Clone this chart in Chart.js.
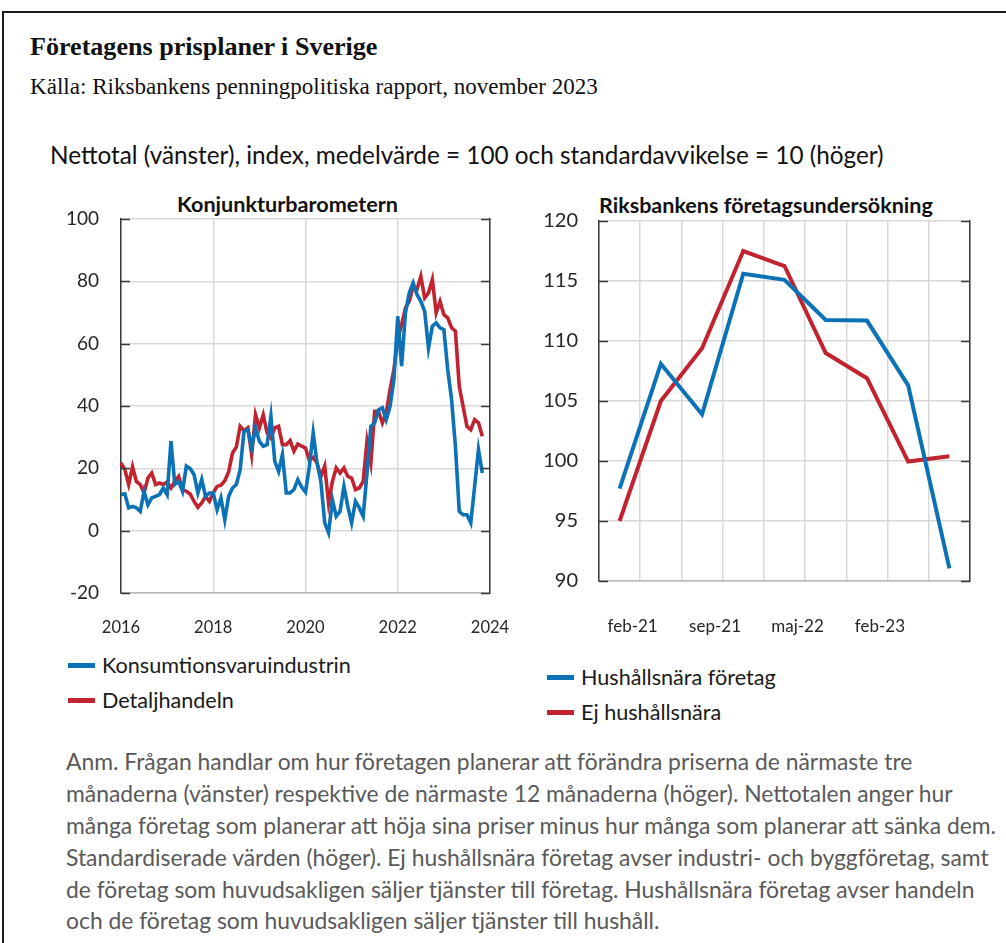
<!DOCTYPE html>
<html>
<head>
<meta charset="utf-8">
<script src="https://cdn.jsdelivr.net/npm/chart.js@4.4.0/dist/chart.umd.min.js"></script>
<style>
html,body{margin:0;padding:0;background:#fff;width:1006px;height:943px;overflow:hidden;}
.t{position:absolute;white-space:nowrap;}
#frame{position:absolute;left:2px;top:11px;width:1100px;height:1000px;border-top:2px solid #1a1a1a;border-left:2px solid #1a1a1a;}
.serif{font-family:"Liberation Serif","DejaVu Serif",serif;color:#111;}
.sans{font-family:Lato,"Open Sans",sans-serif;}
.sw{position:absolute;height:5px;}
#leftWrap{position:absolute;left:30px;top:200px;width:490px;height:450px;}
#rightWrap{position:absolute;left:520px;top:200px;width:486px;height:450px;}
</style>
</head>
<body>
<div id="frame"></div>
<div class="t serif" id="title" style="left:30px;top:32px;line-height:30px;font-weight:bold;">Företagens prisplaner i Sverige</div>
<div class="t serif" id="source" style="left:30px;top:71px;line-height:30px;">Källa: Riksbankens penningpolitiska rapport, november 2023</div>
<div class="t sans" id="subtitle" style="left:50px;top:140px;line-height:30px;color:#111;">Nettotal (vänster), index, medelvärde = 100 och standardavvikelse = 10 (höger)</div>
<div class="t sans" id="ltitle" style="top:192px;line-height:24px;font-weight:bold;color:#111;">Konjunkturbarometern</div>
<div class="t sans" id="rtitle" style="left:599px;top:193px;line-height:24px;font-weight:bold;color:#111;">Riksbankens företagsundersökning</div>

<div id="leftWrap"><canvas id="leftChart"></canvas></div>
<div id="rightWrap"><canvas id="rightChart"></canvas></div>

<div id="legendLeft"></div>
<div id="legendRight"></div>
<div id="note"></div>

<script>
// ---------- DATA ----------
// Left chart: monthly net balances, Jan 2016 ... Nov 2023
const konsumtionsvaruindustrin = [
  11.6, 11.8, 7.3, 7.8, 7.3, 6.2, 12.6, 8.3, 10.5, 11.0, 11.6, 13.7,
  11.6, 28.7, 14.8, 15.8, 12.6, 20.7, 19.9, 18.0, 12.1, 16.4, 11.0, 12.1,
  12.1, 6.7, 10.5, 3.5, 11.0, 13.7, 14.8, 19.6, 31.9, 32.4, 26.5, 33.0,
  28.7, 27.1, 27.6, 36.7, 22.3, 19.0, 24.4, 12.1, 12.1, 13.2, 16.4, 14.0,
  12.4, 20.5, 31.4, 21.7, 15.8, 2.5, -0.7, 9.9, 4.6, 6.2, 14.2, 7.8,
  2.5, 9.4, 7.3, 4.6, 18.5, 33.5, 34.6, 38.8, 39.4, 35.6, 39.9, 48.5,
  68.8, 52.8, 69.9, 76.3, 79.5, 75.8, 73.6, 70.4, 58.6, 65.6, 66.7, 65.1,
  64.5, 51.7, 42.1, 27.1, 6.2, 5.1, 5.1, 2.5, 14.2, 26.0, 18.5
];
const detaljhandeln = [
  21.7, 19.6, 14.8, 20.5, 15.8, 14.8, 12.1, 16.9, 18.5, 14.8, 15.3, 14.8,
  15.6, 13.7, 15.8, 17.4, 13.2, 12.6, 11.8, 9.4, 7.5, 8.9, 11.0, 9.4,
  12.1, 14.2, 14.6, 16.0, 18.8, 24.9, 26.8, 33.5, 32.1, 33.0, 24.4, 37.2,
  33.0, 37.2, 31.4, 29.7, 33.0, 33.5, 27.6, 27.6, 28.9, 25.5, 27.8, 27.1,
  26.5, 22.5, 23.5, 21.7, 17.4, 20.7, 8.9, 15.8, 20.1, 18.5, 20.1, 17.4,
  16.9, 13.2, 13.7, 15.8, 28.7, 21.7, 38.3, 38.3, 34.6, 37.8, 45.3, 51.7,
  61.3, 66.1, 71.5, 73.6, 78.4, 77.4, 81.6, 74.7, 76.3, 80.6, 69.9, 73.6,
  69.3, 68.3, 65.1, 64.0, 46.3, 39.9, 33.5, 32.4, 35.6, 34.6, 30.3
];
const leftYearTicks = ['2016', '2018', '2020', '2022', '2024'];

// Right chart: standardised survey values
const surveyRounds = ['feb-21', 'maj-21', 'sep-21', 'dec-21', 'maj-22', 'sep-22', 'feb-23', 'maj-23', 'sep-23'];
const rightShownTicks = ['feb-21', 'sep-21', 'maj-22', 'feb-23'];
const hushallsnara = [97.7, 108.1, 103.9, 115.6, 115.1, 111.75, 111.7, 106.3, 91.05];
const ejHushallsnara = [95.0, 105.0, 109.4, 117.5, 116.25, 109.0, 106.9, 99.95, 100.4];

const leftLabels = ['Konsumtionsvaruindustrin', 'Detaljhandeln'];
const rightLabels = ['Hushållsnära företag', 'Ej hushållsnära'];

const noteLines = [
  'Anm. Frågan handlar om hur företagen planerar att förändra priserna de närmaste tre',
  'månaderna (vänster) respektive de närmaste 12 månaderna (höger). Nettotalen anger hur',
  'många företag som planerar att höja sina priser minus hur många som planerar att sänka dem.',
  'Standardiserade värden (höger). Ej hushållsnära företag avser industri- och byggföretag, samt',
  'de företag som huvudsakligen säljer tjänster till företag. Hushållsnära företag avser handeln',
  'och de företag som huvudsakligen säljer tjänster till hushåll.'
];

// ---------- STYLE ----------
const BLUE = '#0b72b8';
const RED = '#c1232f';
const GRID = '#d9d9d9';
const AXIS = '#3a3a3a';
const FONT = 'Lato, "Open Sans", sans-serif';

// ---------- TEXT FITTING ----------
const mctx = document.createElement('canvas').getContext('2d');
function fitSize(text, weight, family, target) {
  mctx.font = weight + ' 100px ' + family;
  return 100 * target / mctx.measureText(text).width;
}
function applyFit(id, weight, family, target) {
  const el = document.getElementById(id);
  const s = fitSize(el.textContent, weight, family, target);
  el.style.fontSize = s + 'px';
  return s;
}
const SERIF = '"Liberation Serif"';
applyFit('title', 'bold', SERIF, 348);
applyFit('source', 'normal', SERIF, 568);
applyFit('subtitle', 'normal', 'Lato', 834);
applyFit('ltitle', 'bold', 'Lato', 221);
applyFit('rtitle', 'bold', 'Lato', 334);
(function(){
  const el = document.getElementById('ltitle');
  el.style.left = (287.5 - el.getBoundingClientRect().width / 2) + 'px';
})();

// legends
const legSize = fitSize(leftLabels[0], 'normal', 'Lato', 249);
function makeLegend(containerId, labels, colors, x, swX, ys) {
  const c = document.getElementById(containerId);
  labels.forEach((lab, i) => {
    const sw = document.createElement('div');
    sw.className = 'sw';
    sw.style.left = swX + 'px';
    sw.style.width = '27px';
    sw.style.top = (ys[i] - 2.5) + 'px';
    sw.style.background = colors[i];
    c.appendChild(sw);
    const t = document.createElement('div');
    t.className = 't sans';
    t.textContent = lab;
    t.style.left = x + 'px';
    t.style.top = (ys[i] - 15) + 'px';
    t.style.lineHeight = '30px';
    t.style.fontSize = legSize + 'px';
    t.style.color = '#1a1a1a';
    c.appendChild(t);
  });
}
makeLegend('legendLeft', leftLabels, [BLUE, RED], 102, 68, [665, 700]);
makeLegend('legendRight', rightLabels, [BLUE, RED], 581, 547, [677, 712]);

// note
const noteSize = fitSize(noteLines[0], 'normal', 'Lato', 848);
const noteYs = [761, 793, 825, 857, 889, 920];
const noteEl = document.getElementById('note');
noteLines.forEach((ln, i) => {
  const t = document.createElement('div');
  t.className = 't sans';
  t.textContent = ln;
  t.style.left = '66px';
  t.style.top = (noteYs[i] - 16) + 'px';
  t.style.lineHeight = '32px';
  t.style.fontSize = noteSize + 'px';
  t.style.color = '#595959';
  noteEl.appendChild(t);
});

// ---------- CHARTS ----------
const months = [];
for (let y = 2016; y <= 2024; y++) {
  for (let m = 1; m <= 12; m++) {
    if (y === 2024 && m > 1) break;
    months.push(y + '-' + String(m).padStart(2, '0'));
  }
}
function padSeries(arr) {
  const out = arr.slice();
  while (out.length < months.length) out.push(null);
  return out;
}

const inwardTicks = {
  id: 'inwardTicks',
  afterDatasetsDraw(chart, args, opts) {
    const ctx = chart.ctx, a = chart.chartArea, s = chart.scales.y;
    ctx.save();
    ctx.strokeStyle = AXIS;
    ctx.lineWidth = 1.5;
    s.ticks.forEach(t => {
      const py = Math.round(s.getPixelForValue(t.value)) + 0.5;
      ctx.beginPath();
      ctx.moveTo(a.left, py); ctx.lineTo(a.left + opts.len, py);
      ctx.moveTo(a.right - opts.len, py); ctx.lineTo(a.right, py);
      ctx.stroke();
    });
    ctx.restore();
  }
};

function fixY(width) {
  return s => { s.width = width; s.paddingTop = 0; s.paddingBottom = 0; };
}
function fixX(height) {
  return s => { s.height = height; s.paddingLeft = 0; s.paddingRight = 0; };
}

Chart.defaults.font.family = FONT;
Chart.defaults.color = '#262626';

new Chart(document.getElementById('leftChart'), {
  type: 'line',
  data: {
    labels: months,
    datasets: [
      { label: leftLabels[0], data: padSeries(konsumtionsvaruindustrin), borderColor: BLUE, borderWidth: 3.6, pointRadius: 0, tension: 0, spanGaps: false },
      { label: leftLabels[1], data: padSeries(detaljhandeln), borderColor: RED, borderWidth: 3.6, pointRadius: 0, tension: 0, spanGaps: false }
    ]
  },
  options: {
    responsive: true,
    maintainAspectRatio: false,
    animation: false,
    layout: { padding: { top: 19, right: 30, left: 0, bottom: 0 } },
    plugins: { legend: { display: false }, title: { display: false }, tooltip: { enabled: false }, inwardTicks: { len: 9 } },
    scales: {
      x: {
        type: 'category',
        offset: false,
        grid: {
          color: ctx => (ctx.index % 24 === 0 ? GRID : 'rgba(0,0,0,0)'),
          lineWidth: 1.5,
          drawTicks: false
        },
        border: { display: true, color: '#b5b5b5', width: 1.5 },
        ticks: {
          autoSkip: false,
          maxRotation: 0,
          minRotation: 0,
          padding: 25,
          font: { size: 16.5 },
          color: '#262626',
          callback: function(val, idx) {
            const lab = months[idx];
            const yr = lab.slice(0, 4);
            return (lab.endsWith('-01') && leftYearTicks.includes(yr)) ? yr : '';
          }
        },
        afterFit: fixX(57)
      },
      y: {
        min: -20, max: 100,
        ticks: { stepSize: 20, padding: 22, font: { size: 19 }, color: '#262626' },
        grid: { color: GRID, lineWidth: 1.5, drawTicks: false },
        border: { display: true, color: AXIS, width: 1.5 },
        afterFit: fixY(91)
      },
      y2: {
        position: 'right',
        min: -20, max: 100,
        ticks: { display: false, stepSize: 20 },
        grid: { drawOnChartArea: false, drawTicks: false },
        border: { display: true, color: AXIS, width: 1.5 },
        afterFit: fixY(0)
      }
    }
  },
  plugins: [inwardTicks]
});

new Chart(document.getElementById('rightChart'), {
  type: 'line',
  data: {
    labels: surveyRounds,
    datasets: [
      { label: rightLabels[0], data: hushallsnara, borderColor: BLUE, borderWidth: 4, pointRadius: 0, tension: 0 },
      { label: rightLabels[1], data: ejHushallsnara, borderColor: RED, borderWidth: 4, pointRadius: 0, tension: 0 }
    ]
  },
  options: {
    responsive: true,
    maintainAspectRatio: false,
    animation: false,
    layout: { padding: { top: 21, right: 36, left: 0, bottom: 0 } },
    plugins: { legend: { display: false }, title: { display: false }, tooltip: { enabled: false }, inwardTicks: { len: 9 } },
    scales: {
      x: {
        type: 'category',
        offset: true,
        grid: { offset: true, color: GRID, lineWidth: 1.5, drawTicks: false },
        border: { display: true, color: '#b5b5b5', width: 1.5 },
        ticks: {
          autoSkip: false,
          maxRotation: 0,
          minRotation: 0,
          padding: 35,
          labelOffset: 13,
          font: { size: 17 },
          color: '#262626',
          callback: function(val, idx) {
            const lab = surveyRounds[idx];
            return rightShownTicks.includes(lab) ? lab : '';
          }
        },
        afterFit: fixX(69)
      },
      y: {
        min: 90, max: 120,
        ticks: { stepSize: 5, padding: 21, font: { size: 20 }, color: '#262626' },
        grid: { color: GRID, lineWidth: 1.5, drawTicks: false },
        border: { display: true, color: AXIS, width: 1.5 },
        afterFit: fixY(79)
      },
      y2: {
        position: 'right',
        min: 90, max: 120,
        ticks: { display: false, stepSize: 5 },
        grid: { drawOnChartArea: false, drawTicks: false },
        border: { display: true, color: AXIS, width: 1.5 },
        afterFit: fixY(0)
      }
    }
  },
  plugins: [inwardTicks]
});
</script>
</body>
</html>
